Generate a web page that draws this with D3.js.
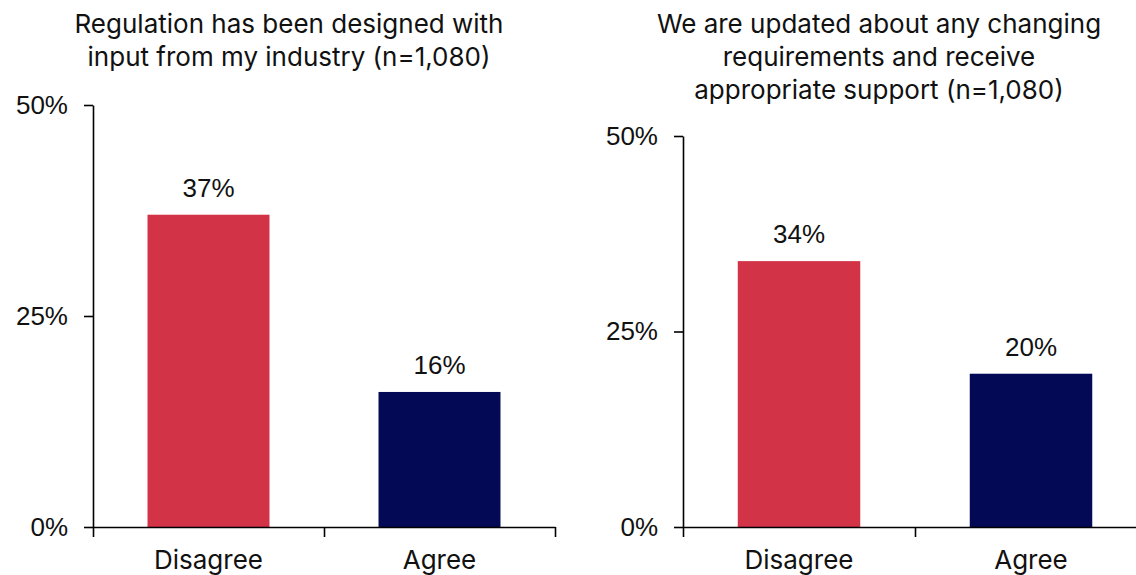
<!DOCTYPE html>
<html>
<head>
<meta charset="utf-8">
<script src="https://cdn.jsdelivr.net/npm/d3@7"></script>
<style>
  html, body { margin: 0; padding: 0; background: #fff; }
  svg { display: block; }
</style>
</head>
<body>
<svg id="chart" width="1136" height="575"></svg>
<script>
const categories = ["Disagree", "Agree"];
const leftValues = [37, 16];
const rightValues = [34, 19.6];
const leftTitle = ["Regulation has been designed with", "input from my industry (n=1,080)"];
const rightTitle = ["We are updated about any changing", "requirements and receive", "appropriate support (n=1,080)"];
const yTicks = [0, 25, 50];
const colors = ["#D33346", "#040955"];

const svg = d3.select("#chart");
const titleFont = "Inter, 'Noto Sans', sans-serif";
const numFont = "'Liberation Sans', Arial, sans-serif";

function panel(cfg) {
  const g = svg.append("g");
  const y = d3.scaleLinear().domain([0, 50]).range([cfg.y0, cfg.y50]);
  const x = d3.scaleBand().domain(categories).range([cfg.x0, cfg.x1]).padding(0);
  const xb = d3.scaleLinear().domain([0, categories.length]).range([cfg.x0, cfg.x1]);

  // title
  const t = g.append("text")
    .attr("x", cfg.tx).attr("y", cfg.ty)
    .attr("text-anchor", "middle")
    .style("font-family", titleFont).style("font-size", "26px").attr("fill", "#111");
  cfg.title.forEach((line, i) => {
    t.append("tspan").attr("x", cfg.tx).attr("dy", i === 0 ? 0 : 33).text(line);
  });

  // bars
  const bw = x.bandwidth() * 0.528;
  g.selectAll("rect.bar").data(cfg.values).join("rect")
    .attr("class", "bar")
    .attr("x", (d, i) => x(categories[i]) + (x.bandwidth() - bw) / 2)
    .attr("width", bw)
    .attr("y", d => y(d))
    .attr("height", d => y(0) - y(d))
    .attr("fill", (d, i) => colors[i]);

  // value labels
  g.selectAll("text.val").data(cfg.values).join("text")
    .attr("class", "val")
    .attr("x", (d, i) => x(categories[i]) + x.bandwidth() / 2)
    .attr("y", d => y(d) - 18)
    .attr("text-anchor", "middle")
    .style("font-family", numFont).style("font-size", "26px").attr("fill", "#111")
    .text(d => d3.format(".0f")(d) + "%");

  // y axis
  const ya = g.append("g").attr("transform", `translate(${cfg.x0},0)`)
    .call(d3.axisLeft(y).tickValues(yTicks).tickSize(9).tickSizeOuter(0).tickPadding(16)
      .tickFormat(d => d + "%"));
  ya.selectAll("text").style("font-family", numFont).style("font-size", "26px").attr("fill", "#111");
  ya.selectAll("line, path").attr("stroke", "#000").attr("stroke-width", 1.6);

  // x axis
  const xa = g.append("g").attr("transform", `translate(0,${cfg.y0})`)
    .call(d3.axisBottom(xb).tickValues(d3.range(categories.length + 1)).tickSize(10).tickSizeOuter(0).tickFormat(""));
  xa.selectAll("line, path").attr("stroke", "#000").attr("stroke-width", 1.6);

  // category labels
  g.selectAll("text.cat").data(categories).join("text")
    .attr("class", "cat")
    .attr("x", d => x(d) + x.bandwidth() / 2)
    .attr("y", cfg.y0 + 42)
    .attr("text-anchor", "middle")
    .style("font-family", titleFont).style("font-size", "26px").attr("fill", "#111")
    .text(d => d);
}

panel({ x0: 93, x1: 555, y0: 527, y50: 105, values: leftValues, title: leftTitle, tx: 289, ty: 33 });
panel({ x0: 683, x1: 1147, y0: 527, y50: 136, values: rightValues, title: rightTitle, tx: 879, ty: 33 });
</script>
</body>
</html>
